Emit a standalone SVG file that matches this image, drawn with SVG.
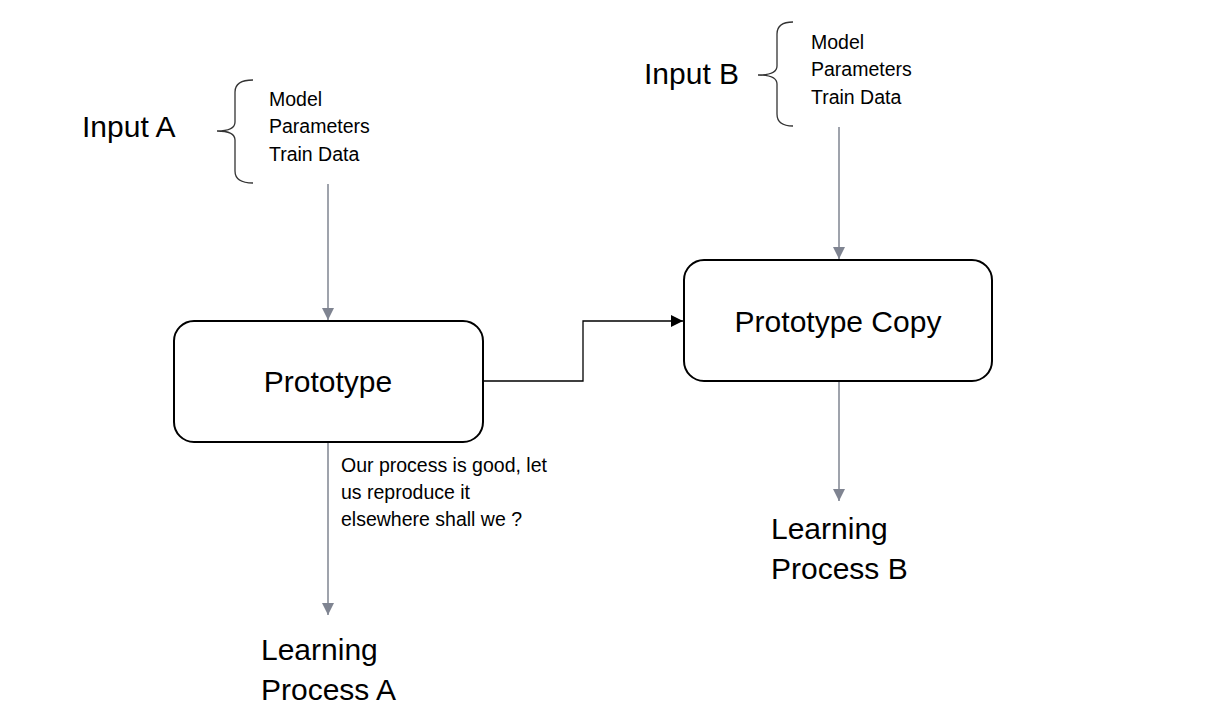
<svg xmlns="http://www.w3.org/2000/svg" width="1232" height="716" viewBox="0 0 1232 716">
<style>
text{font-family:"Liberation Sans",Arial,sans-serif;fill:#000}
.big{font-size:30px}
.sm{font-size:19.5px}
.box{fill:#fff;stroke:#000;stroke-width:2}
.brace{fill:none;stroke:#333;stroke-width:1.3}
.gray{fill:none;stroke:#7f8491;stroke-width:1.5}
.blk{fill:none;stroke:#000;stroke-width:1.3}
</style>
<defs>
<marker id="ag" markerWidth="12" markerHeight="12" refX="10" refY="5" orient="auto" markerUnits="userSpaceOnUse" viewBox="0 0 10 10"><path d="M0,0 L10,5 L0,10 z" fill="#7f8491"/></marker>
<marker id="ab" markerWidth="12" markerHeight="12" refX="10" refY="5" orient="auto" markerUnits="userSpaceOnUse" viewBox="0 0 10 10"><path d="M0,0 L10,5 L0,10 z" fill="#000"/></marker>
</defs>
<rect width="1232" height="716" fill="#fff"/>
<g id="connectors">
<line class="gray" x1="328" y1="184" x2="328" y2="320" marker-end="url(#ag)"/>
<line class="gray" x1="328" y1="443" x2="328" y2="615" marker-end="url(#ag)"/>
<line class="gray" x1="839" y1="127" x2="839" y2="259" marker-end="url(#ag)"/>
<line class="gray" x1="839" y1="382" x2="839" y2="501" marker-end="url(#ag)"/>
<path class="blk" d="M483,381 H583 V321 H683" marker-end="url(#ab)"/>
</g>
<g id="inputA">
<text class="big" x="82" y="137">Input A</text>
<path class="brace" d="M253,80 Q235,80 235,92 L235,122 Q235,131 217,131 Q235,131 235,140 L235,171 Q235,183 253,183"/>
<text class="sm" x="269" y="106">Model</text>
<text class="sm" x="269" y="133">Parameters</text>
<text class="sm" x="269" y="161">Train Data</text>
</g>
<g id="inputB">
<text class="big" x="644" y="84">Input B</text>
<path class="brace" d="M793,22 Q777,22 777,34 L777,66 Q777,75 758,75 Q777,75 777,84 L777,114 Q777,126 793,126"/>
<text class="sm" x="811" y="49">Model</text>
<text class="sm" x="811" y="76">Parameters</text>
<text class="sm" x="811" y="104">Train Data</text>
</g>
<g id="prototype">
<rect class="box" x="174" y="321" width="309" height="121" rx="20"/>
<text class="big" x="328" y="392" text-anchor="middle">Prototype</text>
</g>
<g id="prototypeCopy">
<rect class="box" x="684" y="260" width="308" height="121" rx="20"/>
<text class="big" x="838" y="332" text-anchor="middle">Prototype Copy</text>
</g>
<g id="comment">
<text class="sm" x="341" y="472">Our process is good, let</text>
<text class="sm" x="341" y="499">us reproduce it</text>
<text class="sm" x="341" y="526">elsewhere shall we ?</text>
</g>
<g id="learningA">
<text class="big" x="261" y="660">Learning</text>
<text class="big" x="261" y="700">Process A</text>
</g>
<g id="learningB">
<text class="big" x="771" y="539">Learning</text>
<text class="big" x="771" y="579">Process B</text>
</g>
</svg>
